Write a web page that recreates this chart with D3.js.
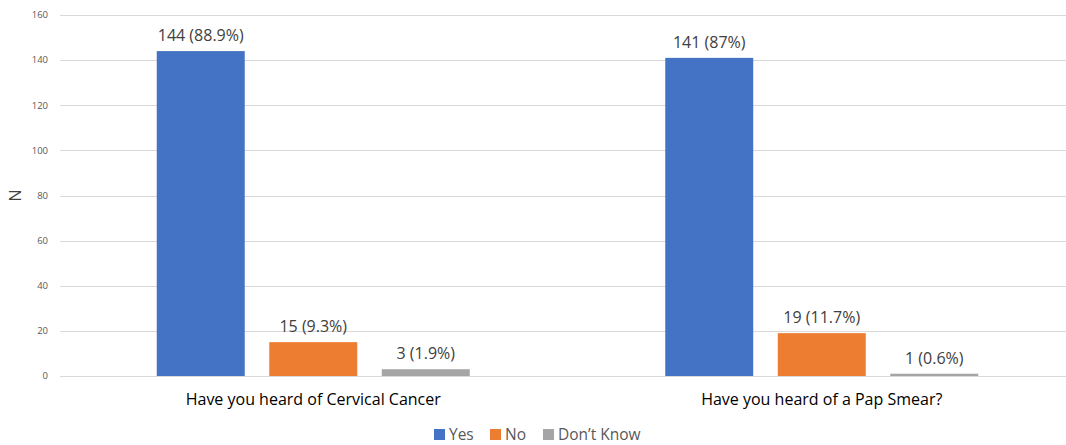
<!DOCTYPE html>
<html>
<head>
<meta charset="utf-8">
<script src="https://cdn.jsdelivr.net/npm/d3@7"></script>
<style>
  html, body { margin: 0; padding: 0; background: #fff; }
  svg { display: block; font-family: "Open Sans", "Noto Sans", sans-serif; }
</style>
</head>
<body>
<svg id="chart" width="1066" height="445"></svg>
<script>
// Survey responses by question
const questions = ["Have you heard of Cervical Cancer", "Have you heard of a Pap Smear?"];
const seriesNames = ["Yes", "No", "Don’t Know"];
const yesValues = [144, 141];
const noValues = [15, 19];
const dontKnowValues = [3, 1];
const valueLabels = [
  ["144 (88.9%)", "15 (9.3%)", "3 (1.9%)"],
  ["141 (87%)", "19 (11.7%)", "1 (0.6%)"]
];
const yTicks = [0, 20, 40, 60, 80, 100, 120, 140, 160];
const colors = ["#4472C4", "#ED7D31", "#A5A5A5"];

const series = [yesValues, noValues, dontKnowValues];
const rows = questions.map((q, i) => ({
  question: q,
  bars: series.map((vals, s) => ({ series: seriesNames[s], value: vals[i], label: valueLabels[i][s], idx: s }))
}));

const svg = d3.select("#chart");
const plotLeft = 60, plotRight = 1066;
const y = d3.scaleLinear().domain([0, 160]).range([376, 15]);
const x0 = d3.scaleBand().domain(questions).range([59, 1076]).paddingInner(0).paddingOuter(0);
const groupWidth = 313;
const x1 = d3.scaleBand().domain(seriesNames).range([0, groupWidth]).paddingInner(0.218).paddingOuter(0);

// Horizontal gridlines
svg.append("g").selectAll("line").data(yTicks).join("line")
  .attr("x1", plotLeft).attr("x2", plotRight)
  .attr("y1", d => Math.round(y(d)) + 0.5).attr("y2", d => Math.round(y(d)) + 0.5)
  .attr("stroke", "#d9d9d9").attr("stroke-width", 1);

// Y axis tick labels
svg.append("g").selectAll("text").data(yTicks).join("text")
  .attr("x", 48).attr("y", d => y(d)).attr("dy", "0.35em")
  .attr("text-anchor", "end").attr("font-size", 9.5).attr("fill", "#595959")
  .text(d => d);

// Y axis title
svg.append("text")
  .attr("transform", `translate(21,${(y(0) + y(160)) / 2}) rotate(-90)`)
  .attr("text-anchor", "middle").attr("font-size", 16).attr("fill", "#404040")
  .text("N");

// Bars
const groups = svg.append("g").selectAll("g").data(rows).join("g")
  .attr("transform", d => `translate(${x0(d.question) + (x0.bandwidth() - groupWidth) / 2},0)`);

groups.selectAll("rect").data(d => d.bars).join("rect")
  .attr("x", d => x1(d.series)).attr("width", x1.bandwidth())
  .attr("y", d => y(d.value)).attr("height", d => y(0) - y(d.value))
  .attr("fill", d => colors[d.idx]);

groups.selectAll("text.val").data(d => d.bars).join("text")
  .attr("class", "val")
  .attr("x", d => x1(d.series) + x1.bandwidth() / 2)
  .attr("y", d => y(d.value) - 10)
  .attr("text-anchor", "middle").attr("font-size", 16).attr("fill", "#404040")
  .text(d => d.label);

// Category labels
svg.append("g").selectAll("text").data(questions).join("text")
  .attr("x", d => x0(d) + x0.bandwidth() / 2).attr("y", 405)
  .attr("text-anchor", "middle").attr("font-size", 16).attr("fill", "#000")
  .text(d => d);

// Legend
const legendItems = [
  { name: seriesNames[0], x: 434 },
  { name: seriesNames[1], x: 490 },
  { name: seriesNames[2], x: 543 }
];
const lg = svg.append("g").selectAll("g").data(legendItems).join("g")
  .attr("transform", d => `translate(${d.x},429)`);
lg.append("rect").attr("width", 11).attr("height", 11).attr("fill", (d, i) => colors[i]);
lg.append("text").attr("x", 15).attr("y", 5.5).attr("dy", "0.35em")
  .attr("font-size", 15.5).attr("fill", "#595959").text(d => d.name);
</script>
</body>
</html>
